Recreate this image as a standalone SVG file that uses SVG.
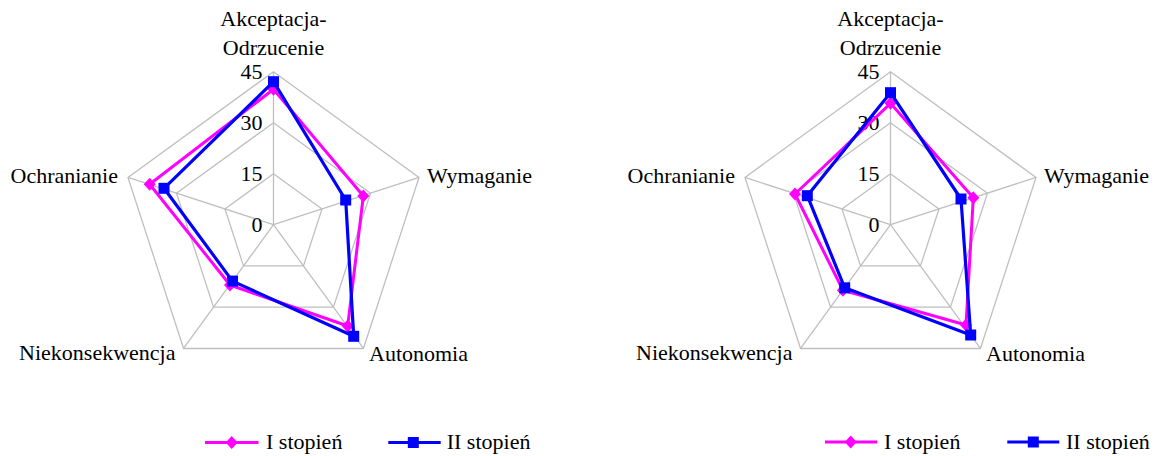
<svg xmlns="http://www.w3.org/2000/svg" width="1159" height="456" viewBox="0 0 1159 456">
<style>
text{font-family:'Times New Roman','Liberation Serif','DejaVu Serif',serif;font-size:22px;fill:#000}
.grid{fill:none;stroke:#bfbfbf;stroke-width:1.3}
.s1{fill:none;stroke:#ff00ff;stroke-width:3;stroke-linejoin:round;marker-start:url(#mdia);marker-mid:url(#mdia)}
.s2{fill:none;stroke:#0000ff;stroke-width:3.2;stroke-linejoin:round;marker-start:url(#msq);marker-mid:url(#msq)}
.tick{text-anchor:end}
.mid{text-anchor:middle}
.end{text-anchor:end}
</style>
<defs>
<marker id="mdia" markerUnits="userSpaceOnUse" viewBox="-7 -7 14 14" markerWidth="14" markerHeight="14" refX="0" refY="0" orient="0" overflow="visible">
<path d="M0,-6.5 L6,0 L0,6.5 L-6,0 Z" fill="#ff00ff"/>
</marker>
<marker id="msq" markerUnits="userSpaceOnUse" viewBox="-7 -7 14 14" markerWidth="14" markerHeight="14" refX="0" refY="0" orient="0" overflow="visible">
<rect x="-5.5" y="-5.5" width="11" height="11" fill="#0000ff"/>
</marker>
<g id="gridshape">
<polygon class="grid" points="0,-153 145.51,-47.28 89.93,123.78 -89.93,123.78 -145.51,-47.28"/>
<polygon class="grid" points="0,-102 97.01,-31.52 59.95,82.52 -59.95,82.52 -97.01,-31.52"/>
<polygon class="grid" points="0,-51 48.5,-15.76 29.98,41.26 -29.98,41.26 -48.5,-15.76"/>
<path class="grid" d="M0,0 L0,-153 M0,0 L145.51,-47.28 M0,0 L89.93,123.78 M0,0 L-89.93,123.78 M0,0 L-145.51,-47.28"/>
</g>
</defs>

<g id="chart1">
<g id="grid1" transform="translate(273.5,224.7)"><use href="#gridshape"/></g>
<g id="ticks1">
<text class="tick" x="262.5" y="79">45</text>
<text class="tick" x="262.5" y="130">30</text>
<text class="tick" x="262.5" y="181">15</text>
<text class="tick" x="262.5" y="232">0</text>
</g>
<g id="labels1">
<g id="c1-akceptacja"><text class="mid" x="273.5" y="26">Akceptacja-</text><text class="mid" x="273.5" y="55">Odrzucenie</text></g>
<g id="c1-wymaganie"><text x="427" y="183">Wymaganie</text></g>
<g id="c1-autonomia"><text x="369" y="361">Autonomia</text></g>
<g id="c1-niekonsekwencja"><text class="end" x="175.5" y="360">Niekonsekwencja</text></g>
<g id="c1-ochranianie"><text class="end" x="118" y="183">Ochranianie</text></g>
</g>
<g id="series1" transform="translate(273.5,224.7)">
<polygon id="c1-s1" class="s1" points="0,-135.4 89.8,-28.7 74.2,101.3 -43.5,60.3 -123.8,-40.4"/>
<polygon id="c1-s2" class="s2" points="0,-143 72.2,-24.7 80.2,111.6 -41,56.4 -109.5,-36.4"/>
</g>
</g>

<g id="chart2">
<g id="grid2" transform="translate(890.5,224.7)"><use href="#gridshape"/></g>
<g id="ticks2">
<text class="tick" x="879.5" y="79">45</text>
<text class="tick" x="879.5" y="130">30</text>
<text class="tick" x="879.5" y="181">15</text>
<text class="tick" x="879.5" y="232">0</text>
</g>
<g id="labels2">
<g id="c2-akceptacja"><text class="mid" x="890.5" y="26">Akceptacja-</text><text class="mid" x="890.5" y="55">Odrzucenie</text></g>
<g id="c2-wymaganie"><text x="1044" y="183">Wymaganie</text></g>
<g id="c2-autonomia"><text x="986" y="361">Autonomia</text></g>
<g id="c2-niekonsekwencja"><text class="end" x="792.5" y="360">Niekonsekwencja</text></g>
<g id="c2-ochranianie"><text class="end" x="735" y="183">Ochranianie</text></g>
</g>
<g id="series2" transform="translate(890.5,224.7)">
<polygon id="c2-s1" class="s1" points="0,-121.4 82.8,-27 75.5,100.3 -47.6,65.5 -95.5,-30.7"/>
<polygon id="c2-s2" class="s2" points="0,-132 70.5,-25.7 80.2,110.3 -45.8,63.1 -83.2,-29"/>
</g>
</g>

<g id="legend1">
<line x1="205" y1="442.5" x2="258.5" y2="442.5" stroke="#ff00ff" stroke-width="3"/>
<path d="M231.7,436 L237.7,442.5 L231.7,449 L225.7,442.5 Z" fill="#ff00ff"/>
<text x="266" y="448.5">I stopień</text>
<line x1="388.3" y1="442.5" x2="440.7" y2="442.5" stroke="#0000ff" stroke-width="3.2"/>
<rect x="407.8" y="437" width="11" height="11" fill="#0000ff"/>
<text x="446.7" y="448.5">II stopień</text>
</g>
<g id="legend2">
<line x1="825" y1="442" x2="877.3" y2="442" stroke="#ff00ff" stroke-width="3"/>
<path d="M850.7,435.5 L856.7,442 L850.7,448.5 L844.7,442 Z" fill="#ff00ff"/>
<text x="884" y="448.5">I stopień</text>
<line x1="1007.3" y1="442" x2="1059.3" y2="442" stroke="#0000ff" stroke-width="3.2"/>
<rect x="1027.8" y="436.5" width="11" height="11" fill="#0000ff"/>
<text x="1066" y="448.5">II stopień</text>
</g>
</svg>
